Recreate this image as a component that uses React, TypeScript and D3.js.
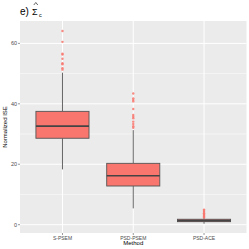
import React from 'react';
import * as d3 from 'd3';

const methods = ['S-PSEM', 'PSD-PSEM', 'PSD-ACE'];
const whiskerLow = [18.3, 5.4, 0.3];
const q1 = [28.6, 12.8, 1.0];
const median = [32.6, 16.2, 1.35];
const q3 = [37.5, 20.3, 1.8];
const whiskerHigh = [50.3, 31.3, 2.2];
const outliers = [
  [64.1, 60.5, 56.6, 56.3, 54.9, 53.4, 53.1, 51.8, 51.3],
  [43.4, 41.8, 41.3, 40.8, 38.3, 36.3, 35.7, 35.2, 34.1, 33.3, 32.6, 32.1],
  [5.0, 4.6, 4.2, 3.8, 3.5, 3.2, 2.9, 2.6, 2.4],
];
const yTicks = [0, 20, 40, 60];
const yMinor = [10, 30, 50];

const W = 249;
const H = 249;
const panel = { left: 20, top: 21, right: 246.5, bottom: 233 };
const fill = '#F8766D';

export default function App() {
  const x0 = d3.scalePoint().domain(methods).range([panel.left, panel.right]).padding(0.6);
  const y = d3.scaleLinear().domain([-2.75, 67.4]).range([panel.bottom, panel.top]);
  const bw = x0.step() * 0.75;

  return (
    <svg width={W} height={H} style={{ position: 'absolute', left: 0, top: 0 }} fontFamily="Liberation Sans, Arial, sans-serif">
      <rect width={W} height={H} fill="#fff" />
      <rect x={panel.left} y={panel.top} width={panel.right - panel.left} height={panel.bottom - panel.top} fill="#EBEBEB" />
      {yMinor.map(v => (
        <line key={'m' + v} x1={panel.left} x2={panel.right} y1={y(v)} y2={y(v)} stroke="#fff" strokeWidth={0.5} />
      ))}
      {yTicks.map(v => (
        <line key={'g' + v} x1={panel.left} x2={panel.right} y1={y(v)} y2={y(v)} stroke="#fff" strokeWidth={1} />
      ))}
      {methods.map(m => (
        <line key={'gx' + m} x1={x0(m)} x2={x0(m)} y1={panel.top} y2={panel.bottom} stroke="#fff" strokeWidth={1} />
      ))}
      {methods.map((m, i) => {
        const cx = x0(m) as number;
        return (
          <g key={m}>
            <line x1={cx} x2={cx} y1={y(q3[i])} y2={y(whiskerHigh[i])} stroke="#555" strokeWidth={0.9} />
            <line x1={cx} x2={cx} y1={y(q1[i])} y2={y(whiskerLow[i])} stroke="#555" strokeWidth={0.9} />
            <rect x={cx - bw / 2} y={y(q3[i])} width={bw} height={y(q1[i]) - y(q3[i])} fill={fill} stroke="#555" strokeWidth={0.9} />
            <line x1={cx - bw / 2} x2={cx + bw / 2} y1={y(median[i])} y2={y(median[i])} stroke="#444" strokeWidth={1.6} />
            {outliers[i].map((v, j) => (
              <circle key={j} cx={cx} cy={y(v)} r={1.2} fill={fill} opacity={0.85} />
            ))}
          </g>
        );
      })}
      {yTicks.map(v => (
        <g key={'t' + v}>
          <line x1={panel.left - 2} x2={panel.left} y1={y(v)} y2={y(v)} stroke="#333" strokeWidth={0.5} />
          <text x={panel.left - 3} y={y(v)} dy="0.35em" textAnchor="end" fontSize={5.5} fill="#4D4D4D">{v}</text>
        </g>
      ))}
      {methods.map(m => (
        <g key={'tx' + m}>
          <line x1={x0(m)} x2={x0(m)} y1={panel.bottom} y2={panel.bottom + 2} stroke="#333" strokeWidth={0.5} />
          <text x={x0(m)} y={panel.bottom + 6.5} textAnchor="middle" fontSize={5} fill="#4D4D4D">{m}</text>
        </g>
      ))}
      <text x={(panel.left + panel.right) / 2} y={245} textAnchor="middle" fontSize={6} fill="#000">Method</text>
      <text transform={`translate(7,${(panel.top + panel.bottom) / 2}) rotate(-90)`} textAnchor="middle" fontSize={6} fill="#000">Normalized ISE</text>
      <text x={panel.left} y={15} fontSize={10} fill="#000">e)</text>
      <text x={32} y={14.5} fontSize={9} fill="#000">Σ</text>
      <path d="M33.8,5 L35.8,2.5 L37.8,5" fill="none" stroke="#000" strokeWidth={0.6} />
      <text x={39} y={17} fontSize={5.5} fill="#000">c</text>
    </svg>
  );
}
